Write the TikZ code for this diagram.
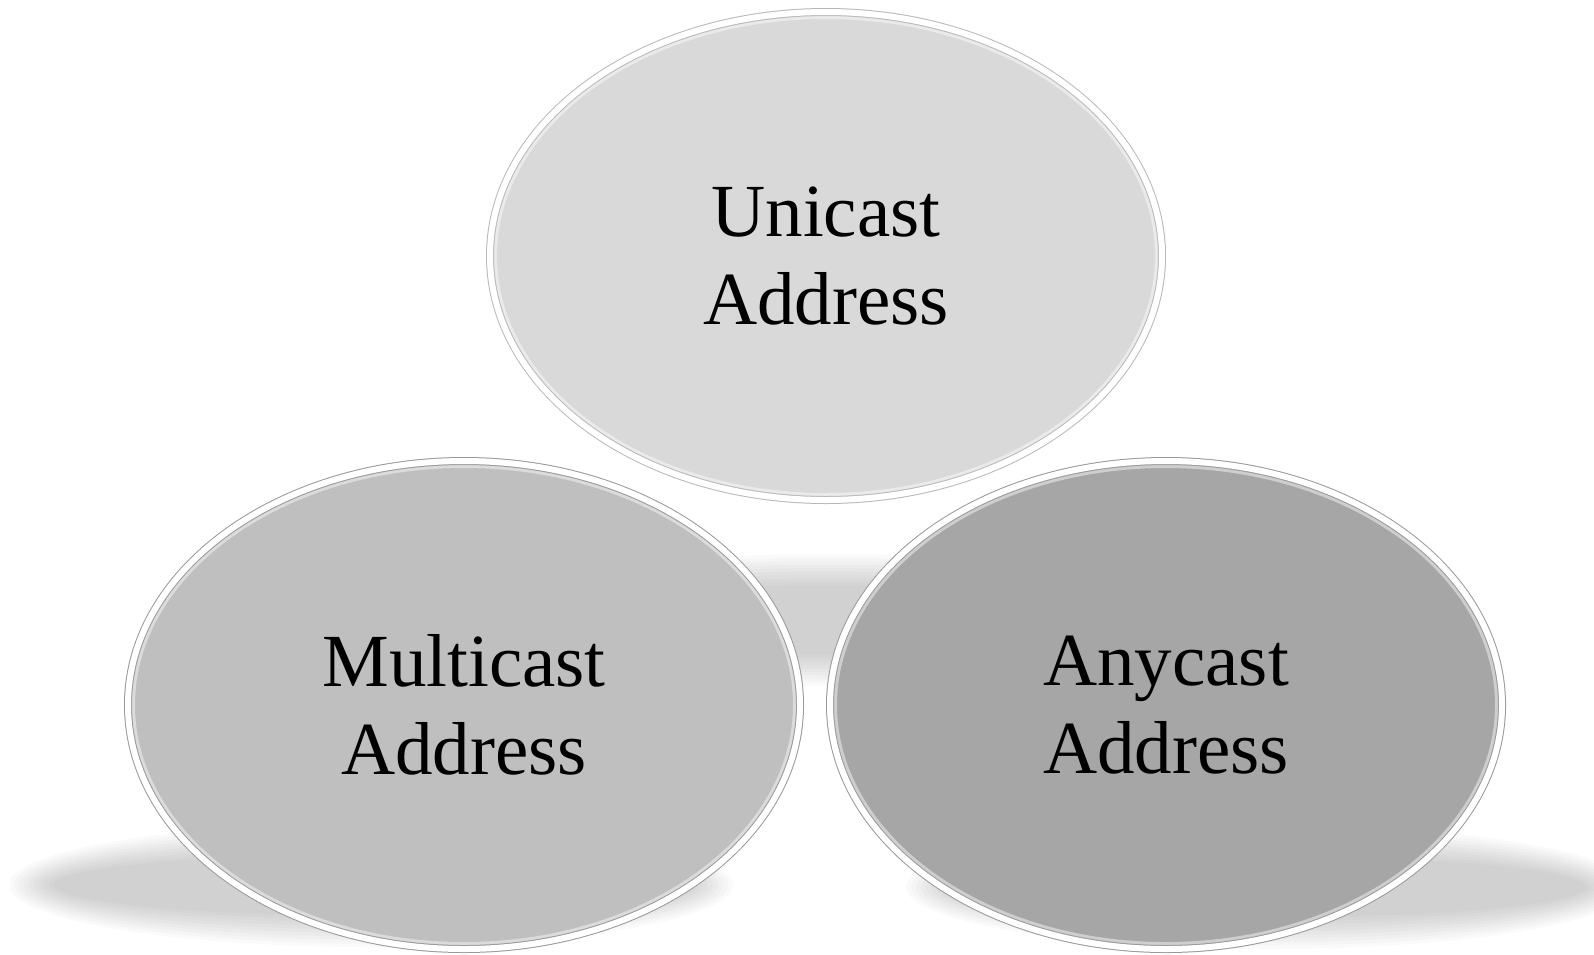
\documentclass[tikz,border=0pt]{standalone}
\usepackage{fontspec}
\setmainfont{Liberation Serif}
\definecolor{unigray}{HTML}{D9D9D9}
\definecolor{multigray}{HTML}{BFBFBF}
\definecolor{anygray}{HTML}{A6A6A6}
\tikzset{
  bubble/.style={ellipse, inner sep=0pt, minimum width=672pt, minimum height=488pt,
    line width=1pt, double=white, double distance=6pt, align=center,
    font=\fontsize{75}{88}\selectfont,
    path picture={
      \draw[white, opacity=0.45, line width=14pt]
        let \p1=(path picture bounding box.north east), \p2=(path picture bounding box.center)
        in (\p2) ellipse [x radius=\x1-\x2, y radius=\y1-\y2];
    }},
}
\newcommand{\softshadow}[3]{% centre, x radius, y radius
  \foreach \k in {0,...,9}
    \fill[black, opacity=0.019] #1 ellipse [x radius={(#2-5*\k)*1pt}, y radius={(#3-3.5*\k)*1pt}];
}
\usetikzlibrary{shapes.geometric,calc}
\begin{document}
\begin{tikzpicture}[x=1pt, y=-1pt, line join=round, line cap=round]
  \useasboundingbox (0,0) rectangle (1594,954);
  % shadows
  \softshadow{(371,885)}{362}{62}
  \softshadow{(1268,887)}{362}{62}
  \softshadow{(826,620)}{345}{66}
  % address types
  \node[bubble, fill=unigray, draw=gray!55] (uni) at (826,256) {Unicast\\Address};
  \node[bubble, fill=multigray, draw=gray!80] (multi) at (464,705) {Multicast\\Address};
  \node[bubble, fill=anygray, draw=gray!80] (any) at (1166,705) {Anycast\\Address};
\end{tikzpicture}
\end{document}
